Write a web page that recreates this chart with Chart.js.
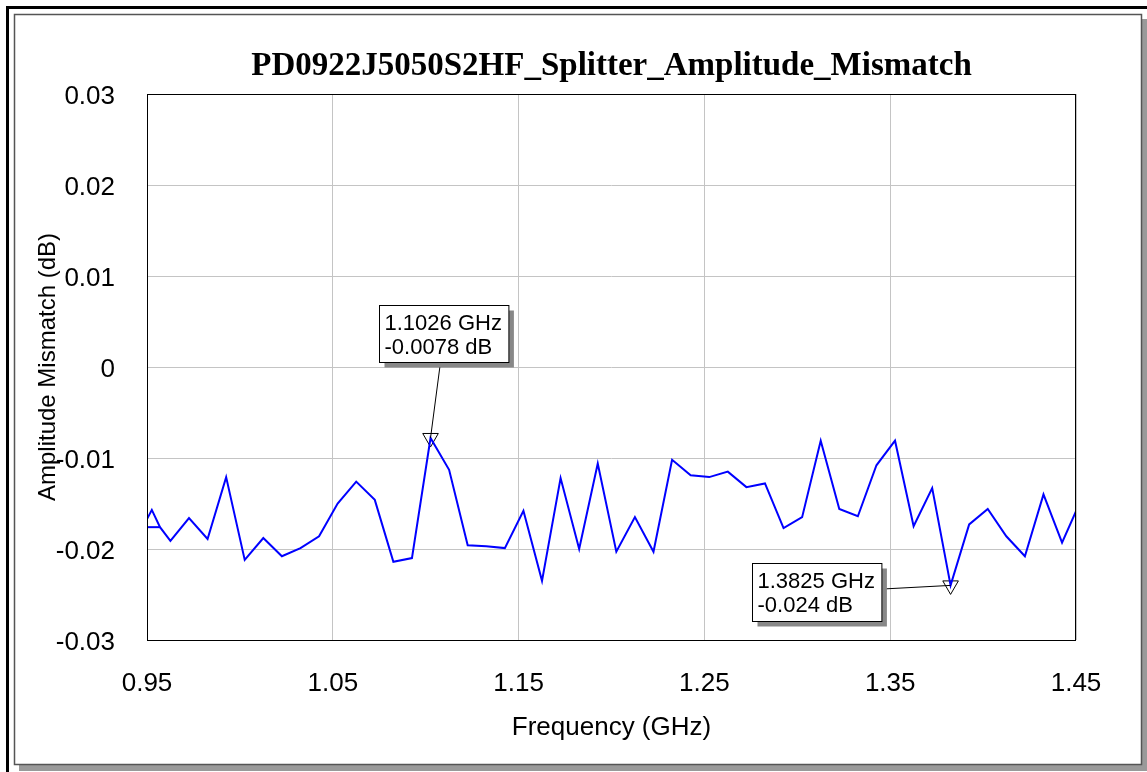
<!DOCTYPE html>
<html>
<head>
<meta charset="utf-8">
<script src="https://cdn.jsdelivr.net/npm/chart.js@4"></script>
<style>
  html, body { margin: 0; padding: 0; background: #fff; }
  canvas { display: block; }
</style>
</head>
<body>
<canvas id="grafico" width="1147" height="772"></canvas>
<script>
// datos
var frecuencias = [0.9426, 0.9526, 0.957, 0.9626, 0.9726, 0.9826, 0.9926, 1.0026, 1.0126, 1.0226,
    1.0326, 1.0426, 1.0526, 1.0626, 1.0726, 1.0826, 1.0926, 1.1026, 1.1126, 1.1226,
    1.1326, 1.1426, 1.1526, 1.1626, 1.1726, 1.1826, 1.1926, 1.2026, 1.2126, 1.2226,
    1.2326, 1.2426, 1.2526, 1.2626, 1.2726, 1.2826, 1.2926, 1.3026, 1.3126, 1.3226,
    1.3326, 1.3426, 1.3526, 1.3626, 1.3726, 1.3825, 1.3925, 1.4025, 1.4125, 1.4225,
    1.4325, 1.4425, 1.4525];
var desajuste = [-0.0196, -0.0157, -0.0176, -0.0191, -0.0166, -0.0189, -0.0121, -0.0212, -0.0188, -0.0208,
    -0.0199, -0.0186, -0.0150, -0.0126, -0.0146, -0.0214, -0.0210, -0.0078, -0.0113, -0.0196,
    -0.0197, -0.0199, -0.0158, -0.0235, -0.0122, -0.0200, -0.0106, -0.0203, -0.0165, -0.0203,
    -0.0102, -0.0119, -0.0121, -0.0115, -0.0132, -0.0128, -0.0177, -0.0165, -0.0081, -0.0156,
    -0.0164, -0.0108, -0.0081, -0.0175, -0.0133, -0.0240, -0.0173, -0.0156, -0.0186, -0.0208,
    -0.0140, -0.0193, -0.0147];
// tramo corto al inicio del barrido
var inicioFrec = [0.9426, 0.957];
var inicioVal = [-0.0176, -0.0176];

var marcadorFrec = [1.1026, 1.3825];
var marcadorVal = [-0.0078, -0.024];
var marcadorTexto = [['1.1026 GHz', '-0.0078 dB'], ['1.3825 GHz', '-0.024 dB']];

var ticksX = [0.95, 1.05, 1.15, 1.25, 1.35, 1.45];
var ticksY = [-0.03, -0.02, -0.01, 0, 0.01, 0.02, 0.03];

var titulo = 'PD0922J5050S2HF_Splitter_Amplitude_Mismatch';

function puntos(xs, ys) {
    return xs.map(function (x, i) { return { x: x, y: ys[i] }; });
}

// posicion de las cajas respecto a cada marcador
var cajas = [{ dx: -52, dy: -133, h: 57 }, { dx: -199, dy: -22, h: 58 }];

var marco = {
    id: 'marco',
    beforeDraw: function (chart) {
        var ctx = chart.ctx;
        ctx.save();
        ctx.fillStyle = '#fff';
        ctx.fillRect(0, 0, 1147, 772);
        // sombra del panel
        ctx.fillStyle = '#9a9a9a';
        ctx.fillRect(19, 19, 1128, 752);
        ctx.fillStyle = '#fff';
        ctx.fillRect(14, 14, 1128, 751);
        ctx.strokeStyle = '#555';
        ctx.lineWidth = 1.5;
        ctx.strokeRect(14.5, 14.5, 1127, 750);
        ctx.strokeStyle = '#000';
        ctx.lineWidth = 3;
        ctx.strokeRect(7.5, 7.5, 1150, 780);
        // titulo
        var a = chart.chartArea;
        ctx.fillStyle = '#000';
        ctx.font = 'bold 33px "Liberation Serif", "Times New Roman", serif';
        ctx.textAlign = 'center';
        ctx.textBaseline = 'alphabetic';
        ctx.fillText(titulo, (a.left + a.right) / 2, 75);
        ctx.restore();
    },
    afterDatasetsDraw: function (chart) {
        var ctx = chart.ctx;
        var a = chart.chartArea;
        ctx.save();
        ctx.strokeStyle = '#000';
        ctx.lineWidth = 1;
        ctx.strokeRect(a.left + 0.5, a.top + 0.5, a.right - a.left - 1, a.bottom - a.top);

        var sx = chart.scales.x, sy = chart.scales.y;
        ctx.font = '22px "Liberation Sans", Arial, sans-serif';
        for (var i = 0; i < marcadorFrec.length; i++) {
            var px = sx.getPixelForValue(marcadorFrec[i]);
            var py = sy.getPixelForValue(marcadorVal[i]);
            var lineas = marcadorTexto[i];
            var w = Math.max(ctx.measureText(lineas[0]).width, ctx.measureText(lineas[1]).width) + 12;
            var h = cajas[i].h;
            var bx = Math.round(px + cajas[i].dx) + 0.5;
            var by = Math.round(py + cajas[i].dy) + 0.5;
            // linea guia
            ctx.strokeStyle = '#000';
            ctx.lineWidth = 1;
            ctx.beginPath();
            ctx.moveTo(bx + w / 2, by + h / 2);
            ctx.lineTo(px, py);
            ctx.stroke();
            // sombra y caja
            ctx.fillStyle = '#888';
            ctx.fillRect(bx + 5, by + 5, w, h);
            ctx.fillStyle = '#fff';
            ctx.fillRect(bx, by, w, h);
            ctx.strokeRect(bx, by, w, h);
            ctx.fillStyle = '#000';
            ctx.textAlign = 'left';
            ctx.textBaseline = 'alphabetic';
            ctx.fillText(lineas[0], bx + 5, by + 24);
            ctx.fillText(lineas[1], bx + 5, by + 48);
        }
        ctx.restore();
    }
};

var fuente = '"Liberation Sans", Arial, sans-serif';

new Chart(document.getElementById('grafico'), {
    type: 'line',
    data: {
        datasets: [{
            data: puntos(frecuencias, desajuste),
            borderColor: '#0000ff',
            borderWidth: 2,
            pointRadius: 0,
            tension: 0,
            fill: false
        }, {
            data: puntos(inicioFrec, inicioVal),
            borderColor: '#0000ff',
            borderWidth: 2,
            pointRadius: 0,
            fill: false
        }, {
            data: puntos(marcadorFrec, marcadorVal),
            showLine: false,
            pointStyle: 'triangle',
            rotation: 180,
            pointRadius: 9,
            borderColor: '#000',
            borderWidth: 1,
            backgroundColor: 'rgba(0,0,0,0)'
        }]
    },
    options: {
        responsive: false,
        animation: false,
        devicePixelRatio: 1,
        layout: { padding: { left: 0, top: 94, right: 71, bottom: 0 } },
        plugins: {
            legend: { display: false },
            tooltip: { enabled: false },
            title: { display: false }
        },
        scales: {
            x: {
                type: 'linear',
                min: 0.95,
                max: 1.45,
                afterFit: function (s) { s.height = 132; },
                afterBuildTicks: function (s) {
                    s.ticks = ticksX.map(function (v) { return { value: v }; });
                },
                ticks: {
                    autoSkip: false,
                    maxRotation: 0,
                    padding: 28,
                    color: '#000',
                    font: { family: fuente, size: 26 },
                    callback: function (v) { return v.toFixed(2); }
                },
                grid: { color: '#c4c4c4', lineWidth: 1, drawTicks: false },
                border: { display: false },
                title: {
                    display: true,
                    text: 'Frequency (GHz)',
                    color: '#000',
                    font: { family: fuente, size: 26 },
                    padding: { top: 0, bottom: 29 }
                }
            },
            y: {
                min: -0.03,
                max: 0.03,
                afterFit: function (s) { s.width = 147; },
                afterBuildTicks: function (s) {
                    s.ticks = ticksY.map(function (v) { return { value: v }; });
                },
                ticks: {
                    padding: 32,
                    labelOffset: 3,
                    color: '#000',
                    font: { family: fuente, size: 26 },
                    callback: function (v) { return String(Number(v.toFixed(2))); }
                },
                grid: { color: '#c4c4c4', lineWidth: 1, drawTicks: false },
                border: { display: false },
                title: {
                    display: true,
                    text: 'Amplitude Mismatch (dB)',
                    color: '#000',
                    font: { family: fuente, size: 24 },
                    padding: { top: 34, bottom: 0 }
                }
            }
        }
    },
    plugins: [marco]
});
</script>
</body>
</html>
